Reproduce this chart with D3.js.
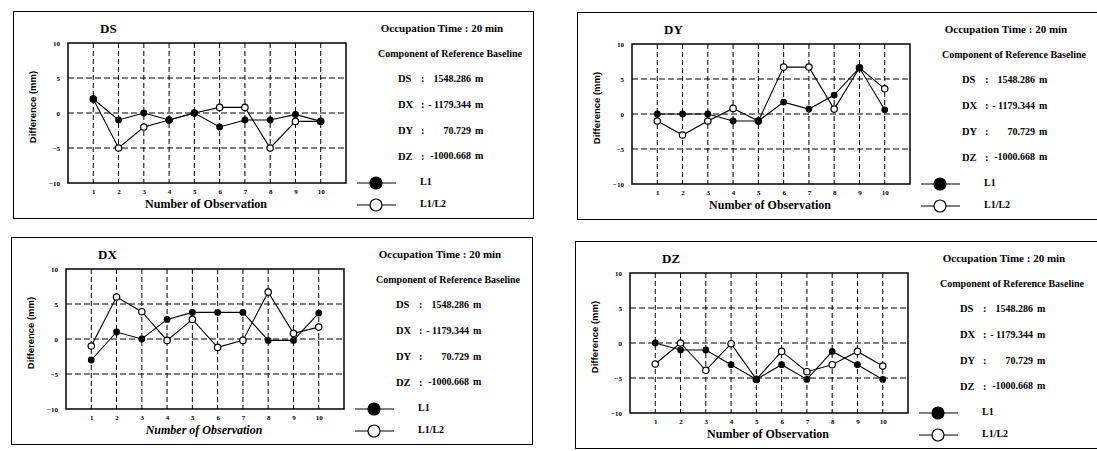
<!DOCTYPE html>
<html>
<head>
<meta charset="utf-8">
<script src="https://cdn.jsdelivr.net/npm/d3@7"></script>
<style>
	body { margin: 0; background: #fff; }
	svg { display: block; }
	text { font-family: "Liberation Serif", "Times New Roman", serif; font-weight: bold; fill: #000; }
</style>
</head>
<body>
<div id="chart"></div>
<script>
var observations = [1, 2, 3, 4, 5, 6, 7, 8, 9, 10];
var yTicks = [-10, -5, 0, 5, 10];
var gridY = [-5, 0, 5];

/* differences in mm */
var dsL1 = [2, -1, 0, -1, 0, -2, -1, -1, -0.2, -1.2];
var dsL1L2 = [2, -5, -2, -1, 0, 0.8, 0.8, -5, -1.2, -1.2];
var dyL1 = [0, 0, 0, -1, -1, 1.7, 0.7, 2.7, 6.6, 0.6];
var dyL1L2 = [-1, -3, -1, 0.8, -1, 6.7, 6.7, 0.7, 6.6, 3.6];
var dxL1 = [-3, 1, 0, 2.8, 3.8, 3.8, 3.8, -0.2, -0.2, 3.7];
var dxL1L2 = [-1, 6, 3.9, -0.2, 2.8, -1.2, -0.2, 6.7, 0.8, 1.7];
var dzL1 = [0, -1, -1, -3.1, -5.2, -3.1, -5.2, -1.2, -3.1, -5.2];
var dzL1L2 = [-3, 0, -3.9, -0.1, -5.2, -1.2, -4.1, -3.1, -1.2, -3.3];

var baselineNames = ["DS", "DX", "DY", "DZ"];
var baselineValues = ["1548.286", "- 1179.344", "70.729", "-1000.668"];
var seriesNames = ["L1", "L1/L2"];

var panels = [
	{ name: "DS", l1: dsL1, l12: dsL1L2, ox: 13, oy: 11, w: 520, italic: false },
	{ name: "DY", l1: dyL1, l12: dyL1L2, ox: 577, oy: 12, w: 525, italic: false },
	{ name: "DX", l1: dxL1, l12: dxL1L2, ox: 11, oy: 237, w: 521, italic: true },
	{ name: "DZ", l1: dzL1, l12: dzL1L2, ox: 575, oy: 241, w: 525, italic: false }
];

var svg = d3.select("#chart").append("svg")
	.attr("width", 1097)
	.attr("height", 451);

panels.forEach(drawPanel);

function drawPanel(p) {
	var g = svg.append("g").attr("transform", "translate(" + p.ox + "," + p.oy + ")");
	var x = d3.scaleLinear().domain([0, 11]).range([55, 333]);
	var y = d3.scaleLinear().domain([-10, 10]).range([172, 32]);

	// panel frame
	g.append("rect")
		.attr("x", 0.5).attr("y", 0.5)
		.attr("width", p.w).attr("height", 207)
		.attr("fill", "none").attr("stroke", "#000").attr("stroke-width", 1);

	// dashed grid
	g.selectAll(".vgrid").data(observations).enter().append("line")
		.attr("x1", function (d) { return x(d); }).attr("x2", function (d) { return x(d); })
		.attr("y1", y(10)).attr("y2", y(-10))
		.attr("stroke", "#000").attr("stroke-width", 1).attr("stroke-dasharray", "5,3");
	g.selectAll(".hgrid").data(gridY).enter().append("line")
		.attr("x1", x(0)).attr("x2", x(11))
		.attr("y1", function (d) { return y(d); }).attr("y2", function (d) { return y(d); })
		.attr("stroke", "#000").attr("stroke-width", 1).attr("stroke-dasharray", "6,3");

	g.append("rect")
		.attr("x", x(0)).attr("y", y(10))
		.attr("width", x(11) - x(0)).attr("height", y(-10) - y(10))
		.attr("fill", "none").attr("stroke", "#000").attr("stroke-width", 1.5);

	// axes (labels only)
	var ya = g.append("g").attr("transform", "translate(" + x(0) + ",0)")
		.call(d3.axisLeft(y).tickValues(yTicks).tickSize(0).tickPadding(8));
	var xa = g.append("g").attr("transform", "translate(0," + y(-10) + ")")
		.call(d3.axisBottom(x).tickValues(observations).tickSize(0).tickPadding(6));
	[ya, xa].forEach(function (a) {
		a.select(".domain").remove();
		a.attr("font-family", null).attr("font-size", null);
		a.selectAll("text").attr("fill", "#000")
			.style("font-size", "7px").style("font-family", "'Liberation Serif', serif").style("font-weight", "bold");
	});

	// series
	var line = d3.line()
		.x(function (d, i) { return x(observations[i]); })
		.y(function (d) { return y(d); });

	[p.l12, p.l1].forEach(function (s) {
		g.append("path").datum(s)
			.attr("d", line)
			.attr("fill", "none").attr("stroke", "#000").attr("stroke-width", 1.1);
	});
	g.selectAll(".open").data(p.l12).enter().append("circle")
		.attr("cx", function (d, i) { return x(observations[i]); })
		.attr("cy", function (d) { return y(d); })
		.attr("r", 3.2)
		.attr("fill", "#fff").attr("stroke", "#000").attr("stroke-width", 1.2);
	g.selectAll(".fill").data(p.l1).enter().append("circle")
		.attr("cx", function (d, i) { return x(observations[i]); })
		.attr("cy", function (d) { return y(d); })
		.attr("r", 3.4)
		.attr("fill", "#000");

	// titles
	g.append("text").attr("x", 87).attr("y", 19)
		.attr("dominant-baseline", "middle")
		.style("font-size", "13px").text(p.name);

	g.append("text")
		.attr("transform", "translate(20," + (y(0) - 6) + ") rotate(-90)")
		.attr("text-anchor", "middle").attr("dominant-baseline", "middle")
		.style("font-family", "'Liberation Sans', Arial, sans-serif")
		.style("font-size", "9.5px").text("Difference (mm)");

	g.append("text").attr("x", 193).attr("y", 194)
		.attr("text-anchor", "middle").attr("dominant-baseline", "middle")
		.style("font-size", "12px").style("font-style", p.italic ? "italic" : "normal")
		.text("Number of Observation");

	// info block
	g.append("text").attr("x", 429).attr("y", 18)
		.attr("text-anchor", "middle").attr("dominant-baseline", "middle")
		.style("font-size", "11px").text("Occupation Time : 20 min");
	g.append("text").attr("x", 437).attr("y", 44)
		.attr("text-anchor", "middle").attr("dominant-baseline", "middle")
		.style("font-size", "10px").text("Component of Reference Baseline");

	baselineNames.forEach(function (n, i) {
		var ty = 69 + i * 25.7;
		g.append("text").attr("x", 385).attr("y", ty).attr("dominant-baseline", "middle")
			.style("font-size", "10.5px").text(n);
		g.append("text").attr("x", 408).attr("y", ty).attr("dominant-baseline", "middle")
			.style("font-size", "10.5px").text(":");
		g.append("text").attr("x", 458).attr("y", ty).attr("text-anchor", "end").attr("dominant-baseline", "middle")
			.style("font-size", "10px").text(baselineValues[i]);
		g.append("text").attr("x", 462).attr("y", ty).attr("dominant-baseline", "middle")
			.style("font-size", "10px").text("m");
	});

	// legend
	seriesNames.forEach(function (n, i) {
		var ly = 172 + i * 22;
		g.append("line").attr("x1", 344).attr("x2", 383).attr("y1", ly).attr("y2", ly)
			.attr("stroke", "#000").attr("stroke-width", 1.2);
		g.append("circle").attr("cx", 363).attr("cy", ly).attr("r", 6)
			.attr("fill", i === 0 ? "#000" : "#fff").attr("stroke", "#000").attr("stroke-width", 1.2);
		g.append("text").attr("x", 407).attr("y", ly).attr("dominant-baseline", "middle")
			.style("font-size", "10px").text(n);
	});
}
</script>
</body>
</html>
